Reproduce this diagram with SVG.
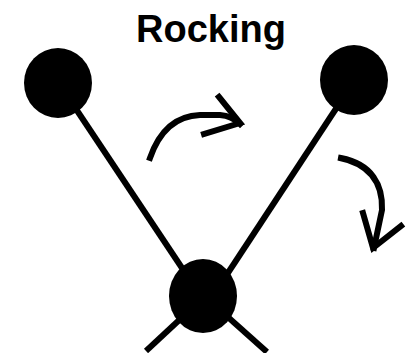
<svg xmlns="http://www.w3.org/2000/svg" width="407" height="353" viewBox="0 0 407 353">
<style>
.ln{stroke:#000;stroke-width:6;fill:none;stroke-linecap:butt}
.ar{stroke:#000;stroke-width:6;fill:none;stroke-linecap:square;stroke-linejoin:miter}
.nd{fill:#000}
.t{font-family:"Liberation Sans",Arial,sans-serif;font-weight:bold;font-size:38px;fill:#000}
</style>
<rect width="407" height="353" fill="#fff"/>
<text class="t" x="211" y="42" text-anchor="middle">Rocking</text>
<g id="connectors">
<line class="ln" x1="70" y1="100" x2="190" y2="280"/>
<line class="ln" x1="345" y1="95" x2="220" y2="285"/>
<line class="ln" x1="190" y1="310" x2="146" y2="351"/>
<line class="ln" x1="220" y1="310" x2="267" y2="352"/>
</g>
<g id="arrow-right">
<path class="ar" d="M150,158 C158,135 172,116 200,115 L220,115 Q232,116 240,124"/>
<path class="ar" d="M219,97 L240,123 L204,134"/>
</g>
<g id="arrow-down">
<path class="ar" d="M341,158 C372,164 383,185 382,210 L374,248"/>
<path class="ar" d="M363,213 L373,248 L401,226"/>
</g>
<g id="node-left"><ellipse class="nd" cx="58" cy="83" rx="34" ry="35"/></g>
<g id="node-right"><ellipse class="nd" cx="354" cy="80" rx="34" ry="35"/></g>
<g id="node-bottom"><ellipse class="nd" cx="203" cy="296" rx="34" ry="37"/></g>
</svg>
